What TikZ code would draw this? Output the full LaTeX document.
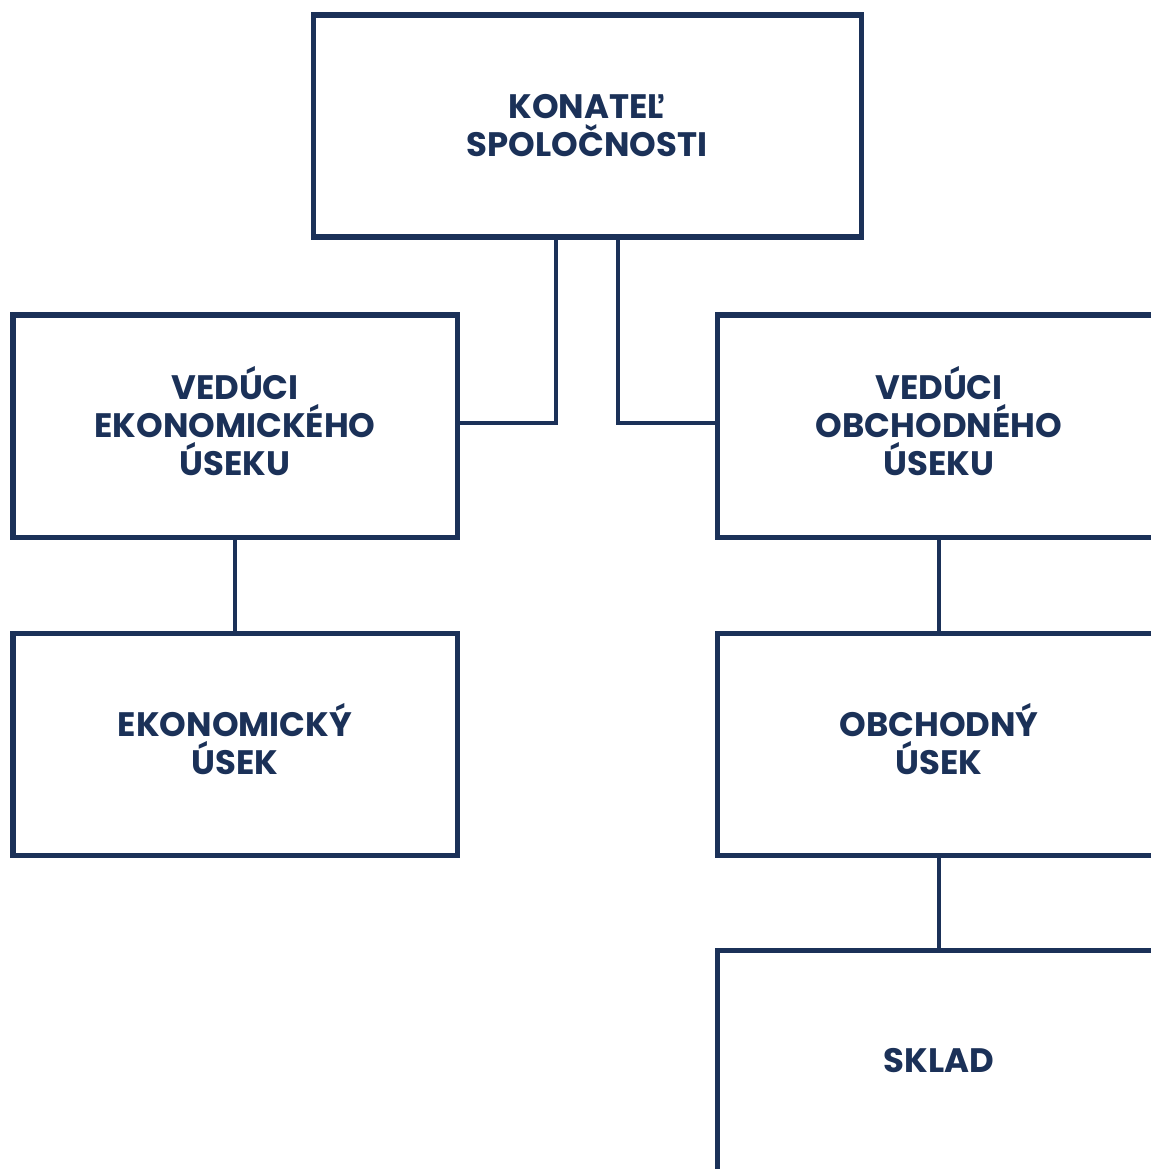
\documentclass[tikz,border=0pt]{standalone}
\usepackage{fontspec}
\setmainfont{Poppins}
\usepackage{tikz}
\usetikzlibrary{positioning,calc}
\definecolor{navy}{HTML}{1B3158}
% struts that keep the capitals centred in the box
\newcommand{\topstrut}{\rule{0pt}{1.0em}}
\newcommand{\botstrut}{\rule[-0.3em]{0pt}{0.3em}}
\tikzstyle{box} = [draw=navy,line width=2.85pt,minimum width=444*0.02cm,minimum height=222*0.02cm,
  align=center,text=navy,font=\fontsize{19.3}{21.6}\selectfont\bfseries,inner sep=0pt]
\tikzstyle{link} = [draw=navy,line width=2.3pt]

\begin{document}
\begin{tikzpicture}[x=0.02cm,y=-0.02cm]
    \useasboundingbox (0,0) rectangle (1151,1169);

    \node [box,minimum width=548*0.02cm] (top) at (587,126) {\topstrut KONATEĽ\\SPOLOČNOSTI\botstrut};
    \node [box] (vek) at (235,426) {\topstrut VEDÚCI\\EKONOMICKÉHO\\ÚSEKU\botstrut};
    \node [box] (vob) at (939,426) {\topstrut VEDÚCI\\OBCHODNÉHO\\ÚSEKU\botstrut};
    \node [box] (ek) at (235,744) {\topstrut EKONOMICKÝ\\ÚSEK\botstrut};
    \node [box] (ob) at (939,744) {\topstrut OBCHODNÝ\\ÚSEK\botstrut};
    \node [box] (sk) at (939,1061) {\topstrut SKLAD\botstrut};

    \draw [link] ([shift={(-31,0)}]top.south) |- ([yshift=1.5pt]vek.east);
    \draw [link] ([shift={(31,0)}]top.south) |- ([yshift=1.5pt]vob.west);
    \draw [link] (vek) -- (ek);
    \draw [link] (vob) -- (ob);
    \draw [link] (ob) -- (sk);
\end{tikzpicture}
\end{document}
